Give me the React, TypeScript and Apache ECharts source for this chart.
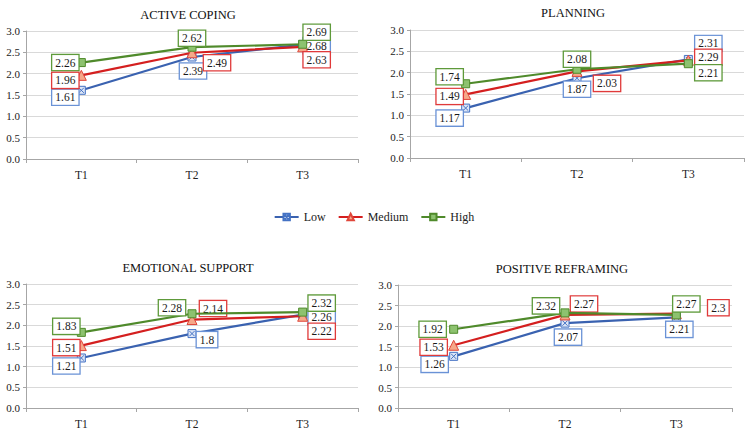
import React, { useEffect, useRef } from "react";
import * as echarts from "echarts";

const categories = ["T1", "T2", "T3"];
const seriesNames = ["Low", "Medium", "High"];
const panelTitles = ["ACTIVE COPING", "PLANNING", "EMOTIONAL SUPPORT", "POSITIVE REFRAMING"];

const activeLow = [1.61, 2.39, 2.68];
const activeMedium = [1.96, 2.49, 2.63];
const activeHigh = [2.26, 2.62, 2.69];

const planningLow = [1.17, 1.87, 2.31];
const planningMedium = [1.49, 2.03, 2.29];
const planningHigh = [1.74, 2.08, 2.21];

const emotionalLow = [1.21, 1.8, 2.26];
const emotionalMedium = [1.51, 2.14, 2.22];
const emotionalHigh = [1.83, 2.28, 2.32];

const reframingLow = [1.26, 2.07, 2.21];
const reframingMedium = [1.53, 2.27, 2.3];
const reframingHigh = [1.92, 2.32, 2.27];

const panelData = [
  [activeLow, activeMedium, activeHigh],
  [planningLow, planningMedium, planningHigh],
  [emotionalLow, emotionalMedium, emotionalHigh],
  [reframingLow, reframingMedium, reframingHigh],
];

// layout: grids [left, top, width, height]
const grids = [
  [26, 31, 332, 128],
  [410, 30, 334, 128],
  [26, 284, 332, 125],
  [398, 285, 334, 127],
];
const titlePos = [
  [183, 3],
  [568, 1],
  [183, 256],
  [557, 257],
];

// label offsets [panel][series][point]
const labelOffsets = [
  [
    [[-16, 7], [1, 14], [14, 1]],
    [[-16, 5], [25, 10], [14, 13]],
    [[-16, 0], [0, -9], [14, -12]],
  ],
  [
    [[-16, 10], [0, 11], [20, -16]],
    [[-16, 2], [30, 12], [20, -3]],
    [[-16, -7], [0, -10], [20, 9]],
  ],
  [
    [[-15, 8], [15, 6], [19, 2]],
    [[-15, 2], [21, -11], [19, 15]],
    [[-15, -6], [-20, -6], [19, -9]],
  ],
  [
    [[-19, 8], [3, 14], [3, 12]],
    [[-20, 2], [19, -11], [42, -6]],
    [[-21, 0], [-19, -7], [10, -11]],
  ],
];

const lineColors = ["#3A62B0", "#D41F1F", "#4F8A2B"];
const labelBorders = ["#6A92D6", "#E03A3A", "#5E9A3A"];
const symbols = [
  "path://M0,0H10V10H0Z M1.8,1.8L8.2,8.2 M8.2,1.8L1.8,8.2",
  "triangle",
  "rect",
];
const symbolFills = ["#DCE5F6", "#F5A889", "#8DC26F"];
const symbolBorders = ["#4472C4", "#E0463A", "#4F8A2B"];
const symbolSizes = [8, 10, 8];

const FONT = "Liberation Serif";

export default function App() {
  const ref = useRef<HTMLDivElement>(null);
  useEffect(() => {
    if (!ref.current) return;
    const chart = echarts.init(ref.current, undefined, { renderer: "svg" });
    const series: any[] = [];
    panelData.forEach((panel, p) => {
      panel.forEach((vals, s) => {
        series.push({
          type: "line",
          name: seriesNames[s],
          xAxisIndex: p,
          yAxisIndex: p,
          symbol: symbols[s],
          symbolSize: symbolSizes[s],
          z: 2 + s,
          lineStyle: { color: lineColors[s], width: 2.2 },
          itemStyle: { color: symbolFills[s], borderColor: symbolBorders[s], borderWidth: 1 },
          label: {
            show: true,
            position: "inside",
            fontFamily: FONT,
            fontSize: 11.5,
            color: "#1a1a1a",
            backgroundColor: "#fff",
            borderColor: labelBorders[s],
            borderWidth: 1.3,
            padding: [2, 3, 1, 3],
            formatter: (d: any) => String(d.value),
          },
          data: vals.map((v, i) => ({
            value: v,
            label: { offset: labelOffsets[p][s][i] },
          })),
        });
      });
    });

    chart.setOption({
      animation: false,
      textStyle: { fontFamily: FONT },
      title: panelTitles.map((t, p) => ({
        text: t,
        left: titlePos[p][0],
        top: titlePos[p][1],
        textAlign: "center",
        textStyle: { fontFamily: FONT, fontSize: 12.5, fontWeight: "normal", color: "#111" },
      })),
      legend: {
        data: seriesNames,
        top: 206,
        left: "center",
        itemWidth: 24,
        itemHeight: 8,
        itemGap: 12,
        textStyle: { fontFamily: FONT, fontSize: 12, color: "#222" },
      },
      grid: grids.map((g) => ({ left: g[0], top: g[1], width: g[2], height: g[3] })),
      xAxis: grids.map((_, p) => ({
        type: "category",
        gridIndex: p,
        data: categories,
        boundaryGap: true,
        axisLine: { lineStyle: { color: "#A6A6A6" } },
        axisTick: { show: true, length: 4, lineStyle: { color: "#A6A6A6" } },
        axisLabel: { fontFamily: FONT, fontSize: 11.5, color: "#222", margin: 10 },
      })),
      yAxis: grids.map((_, p) => ({
        type: "value",
        gridIndex: p,
        min: 0,
        max: 3,
        interval: 0.5,
        axisLine: { show: true, lineStyle: { color: "#A6A6A6" } },
        axisTick: { show: true, length: 3, lineStyle: { color: "#A6A6A6" } },
        splitLine: { lineStyle: { color: "#D9D9D9" } },
        axisLabel: {
          fontFamily: FONT,
          fontSize: 11,
          color: "#222",
          margin: 6,
          formatter: (v: number) => v.toFixed(1),
        },
      })),
      series,
    });
    return () => chart.dispose();
  }, []);
  return (
    <div
      ref={ref}
      style={{ position: "fixed", left: 0, top: 0, width: 748, height: 430, background: "#fff" }}
    />
  );
}
